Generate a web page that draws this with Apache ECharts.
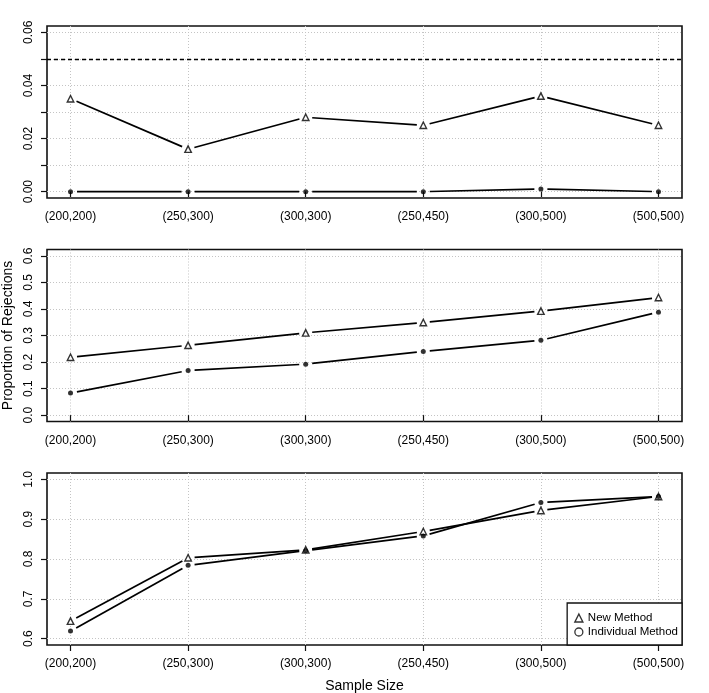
<!DOCTYPE html>
<html>
<head>
<meta charset="utf-8">
<script src="https://cdn.jsdelivr.net/npm/echarts@6/dist/echarts.min.js"></script>
<style>
html,body{margin:0;padding:0;background:#fff;}
#chart{width:709px;height:693px;}
</style>
</head>
<body>
<div id="chart"></div>
<script>
const categories = ['(200,200)','(250,300)','(300,300)','(250,450)','(300,500)','(500,500)'];

const newMethod1 = [0.035, 0.016, 0.028, 0.025, 0.036, 0.025];
const individual1 = [0.000, 0.000, 0.000, 0.000, 0.001, 0.000];
const newMethod2 = [0.218, 0.263, 0.310, 0.349, 0.392, 0.443];
const individual2 = [0.083, 0.168, 0.192, 0.240, 0.282, 0.388];
const newMethod3 = [0.644, 0.803, 0.823, 0.869, 0.922, 0.957];
const individual3 = [0.619, 0.784, 0.821, 0.858, 0.942, 0.957];
const nominalLevel = 0.05;

const yTicks1 = [0, 0.01, 0.02, 0.03, 0.04, 0.05, 0.06];
const yLabels1 = [0, 0.02, 0.04, 0.06];
const yTicks2 = [0, 0.1, 0.2, 0.3, 0.4, 0.5, 0.6];
const yTicks3 = [0.6, 0.7, 0.8, 0.9, 1.0];

const yAxisTitle = 'Proportion of Rejections';
const xAxisTitle = 'Sample Size';
const legendNames = ['New Method', 'Individual Method'];

const FONT = '"Liberation Sans", Arial, Helvetica, sans-serif';
const xIdx = categories.map((c, i) => i + 1);

const panels = [
  {nm: newMethod1, ind: individual1, ticks: yTicks1, labels: yLabels1, dec: 2},
  {nm: newMethod2, ind: individual2, ticks: yTicks2, labels: yTicks2, dec: 1},
  {nm: newMethod3, ind: individual3, ticks: yTicks3, labels: yTicks3, dec: 1}
];

const gridTops = [26, 249.5, 473];
const gridH = 172;

function pad(lo, hi) { const d = (hi - lo) * 0.04; return [lo - d, hi + d]; }

const grids = [], xAxes = [], yAxes = [], series = [];

function segData(vals) {
  const out = [];
  for (let i = 0; i < vals.length - 1; i++) out.push([xIdx[i], vals[i], xIdx[i + 1], vals[i + 1]]);
  return out;
}

function gapLine(params, api) {
  const a = api.coord([api.value(0), api.value(1)]);
  const b = api.coord([api.value(2), api.value(3)]);
  const dx = b[0] - a[0], dy = b[1] - a[1];
  const len = Math.sqrt(dx * dx + dy * dy);
  const g = 6.5;
  if (len <= 2 * g) return null;
  const ux = dx / len, uy = dy / len;
  return {
    type: 'line',
    shape: {x1: a[0] + ux * g, y1: a[1] + uy * g, x2: b[0] - ux * g, y2: b[1] - uy * g},
    style: {stroke: '#000', lineWidth: 1.7}
  };
}

panels.forEach((p, k) => {
  grids.push({left: 47, right: 27, top: gridTops[k], height: gridH, show: true,
    outerBoundsMode: 'none', containLabel: false,
    borderColor: '#111', borderWidth: 1.6, backgroundColor: 'transparent'});
  const xr = pad(1, 6);
  xAxes.push({
    type: 'value', gridIndex: k, min: xr[0], max: xr[1],
    axisLine: {show: false},
    axisTick: {show: true, length: 6, lineStyle: {color: '#111', width: 1.2}, customValues: xIdx},
    axisLabel: {show: true, margin: 13, customValues: xIdx, fontFamily: FONT, fontSize: 12, color: '#000',
      formatter: v => categories[Math.round(v) - 1] || ''},
    splitLine: {show: true, lineStyle: {color: '#c4c4c4', type: [1, 2], width: 1}},
    name: k === 2 ? xAxisTitle : '', nameLocation: 'middle', nameGap: 34,
    nameTextStyle: {fontFamily: FONT, fontSize: 14, color: '#000'}
  });
  const yr = pad(p.ticks[0], p.ticks[p.ticks.length - 1]);
  yAxes.push({
    type: 'value', gridIndex: k, min: yr[0], max: yr[1],
    axisLine: {show: false},
    axisTick: {show: true, length: 6, lineStyle: {color: '#111', width: 1.2}, customValues: p.ticks},
    axisLabel: {show: true, rotate: 90, margin: 12, customValues: p.labels, fontFamily: FONT, fontSize: 12, color: '#000',
      formatter: v => v.toFixed(p.dec)},
    splitLine: {show: true, lineStyle: {color: '#c4c4c4', type: [1, 2], width: 1}},
    name: k === 1 ? yAxisTitle : '', nameLocation: 'middle', nameGap: 28, nameRotate: 90,
    nameTextStyle: {fontFamily: FONT, fontSize: 14, color: '#000'}
  });
  series.push({type: 'custom', xAxisIndex: k, yAxisIndex: k, data: segData(p.nm),
    encode: {x: [0, 2], y: [1, 3]}, renderItem: gapLine, silent: true, z: 3});
  series.push({type: 'custom', xAxisIndex: k, yAxisIndex: k, data: segData(p.ind),
    encode: {x: [0, 2], y: [1, 3]}, renderItem: gapLine, silent: true, z: 3});
  series.push({
    name: legendNames[0], type: 'scatter', xAxisIndex: k, yAxisIndex: k,
    data: p.nm.map((v, i) => [xIdx[i], v]), symbol: 'triangle', symbolSize: 6.5,
    itemStyle: {color: '#fff', borderColor: '#000', borderWidth: 1.4}, z: 5, silent: true,
    markLine: k === 0 ? {silent: true, symbol: 'none', label: {show: false},
      lineStyle: {color: '#000', type: [4, 3], width: 1.4}, data: [{yAxis: nominalLevel}]} : undefined
  });
  series.push({
    name: legendNames[1], type: 'scatter', xAxisIndex: k, yAxisIndex: k,
    data: p.ind.map((v, i) => [xIdx[i], v]), symbol: 'circle', symbolSize: 5,
    itemStyle: {color: '#000', borderWidth: 0}, z: 5, silent: true
  });
});

const chart = echarts.init(document.getElementById('chart'), null, {renderer: 'canvas'});
chart.setOption({
  animation: false,
  backgroundColor: '#fff',
  grid: grids, xAxis: xAxes, yAxis: yAxes, series: series,
  legend: {
    right: 27, bottom: 48, orient: 'vertical', selectedMode: false,
    borderColor: '#111', borderWidth: 1.3, borderRadius: 0, backgroundColor: '#fff',
    padding: [9, 4, 7, 7], itemGap: 2, itemWidth: 8, itemHeight: 8,
    textStyle: {fontFamily: FONT, fontSize: 11.5, color: '#000'},
    data: [
      {name: legendNames[0], icon: 'triangle', itemStyle: {color: '#fff', borderColor: '#000', borderWidth: 1.4}},
      {name: legendNames[1], icon: 'circle', itemStyle: {color: '#fff', borderColor: '#000', borderWidth: 1.3}}
    ]
  }
});
</script>
</body>
</html>
